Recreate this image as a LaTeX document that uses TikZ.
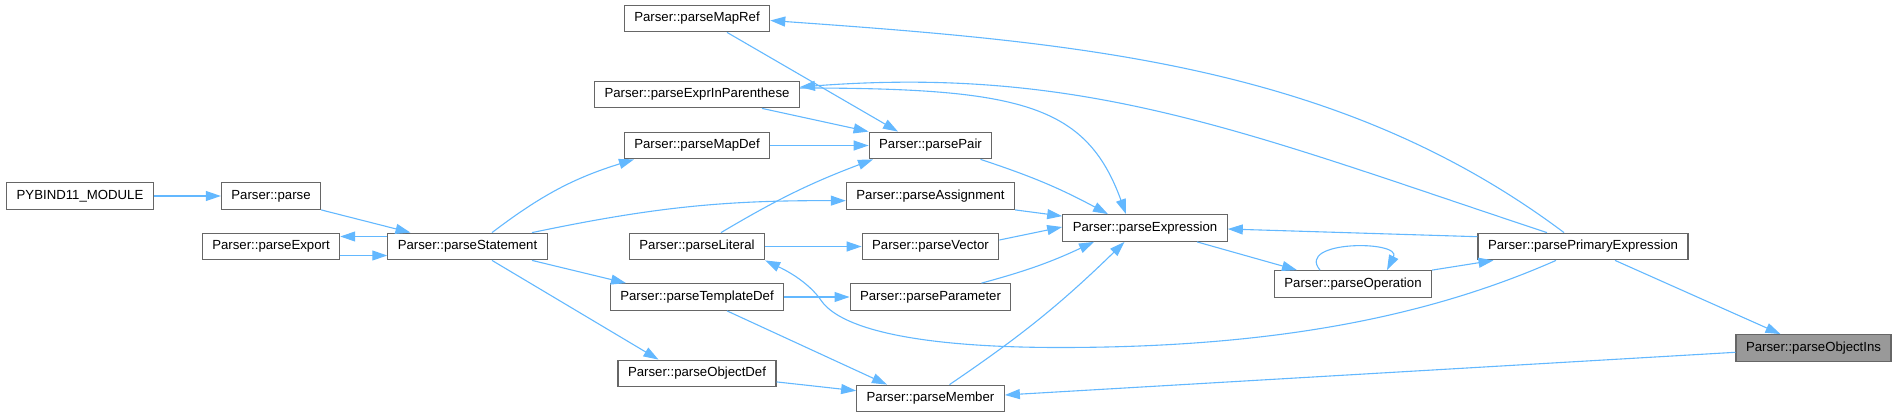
\documentclass[tikz,border=0pt]{standalone}
\usepackage{fontspec}
\setmainfont{Liberation Sans}
\usepackage{xcolor}
\usetikzlibrary{arrows.meta}
\definecolor{edgeblue}{HTML}{63B8FF}
\definecolor{boxgray}{HTML}{666666}
\definecolor{selgray}{HTML}{999999}

\begin{document}
\begin{tikzpicture}[
  x=1pt, y=-1pt,
  font=\fontsize{13.2}{15}\selectfont,
  fn/.style={draw=boxgray, line width=1.1pt, fill=white, minimum height=26.7pt, inner xsep=10pt, inner ysep=0pt},
  cur/.style={fn, fill=selgray},
  call/.style={->, draw=edgeblue, line width=1.1pt},
  >={Triangle[length=15pt,width=10pt]}]

  \useasboundingbox (0,0) rectangle (1897,417);

  \node[fn] (pybind) at (80,196) {PYBIND11\_MODULE};
  \node[fn] (parse) at (271,196) {Parser::parse};
  \node[fn] (export) at (271,246.5) {Parser::parseExport};
  \node[fn] (stmt) at (467.5,246.5) {Parser::parseStatement};

  \node[fn] (mapref) at (697,18.5) {Parser::parseMapRef};
  \node[fn] (paren) at (697,94.5) {Parser::parseExprInParenthese};
  \node[fn] (mapdef) at (697,145.5) {Parser::parseMapDef};
  \node[fn] (literal) at (697,246.5) {Parser::parseLiteral};
  \node[fn] (tmpldef) at (697,297) {Parser::parseTemplateDef};
  \node[fn] (objdef) at (697,373.5) {Parser::parseObjectDef};

  \node[fn] (pair) at (930.5,145.5) {Parser::parsePair};
  \node[fn] (assign) at (930.5,196) {Parser::parseAssignment};
  \node[fn] (vector) at (930.5,246.5) {Parser::parseVector};
  \node[fn] (param) at (930.5,297) {Parser::parseParameter};
  \node[fn] (member) at (930.5,398.5) {Parser::parseMember};

  \node[fn] (expr) at (1145,228) {Parser::parseExpression};
  \node[fn] (oper) at (1353,284) {Parser::parseOperation};
  \node[fn] (primary) at (1583,246.5) {Parser::parsePrimaryExpression};
  \node[cur] (objins) at (1813.5,348) {Parser::parseObjectIns};

  % entry side
  \draw[call] (pybind) -- (parse);
  \draw[call] (parse.south east) -- ([xshift=-57pt]stmt.north);
  \draw[call] ([yshift=10pt]stmt.west) -- ([yshift=10pt]export.east);
  \draw[call] ([yshift=-9pt]export.east) -- ([yshift=-9pt]stmt.west);
  \draw[call] ([xshift=24.5pt]stmt.north) to[bend left=10] ([xshift=-63pt]mapdef.south);
  \draw[call] ([xshift=64.5pt]stmt.north) to[bend left=6] ([yshift=-4.7pt]assign.west);
  \draw[call] ([xshift=64.5pt]stmt.south) -- ([xshift=-71pt]tmpldef.north);
  \draw[call] ([xshift=24.5pt]stmt.south) -- ([xshift=-38.5pt]objdef.north);

  % second column
  \draw[call] ([xshift=30pt]mapref.south) -- ([xshift=-32.5pt]pair.north);
  \draw[call] ([xshift=65pt]paren.south) -- (pair.north west);
  \draw[call] (mapdef) -- (pair);
  \draw[call] ([xshift=24pt]literal.north) to[bend left=5] ([xshift=-57.5pt]pair.south);
  \draw[call] (literal) -- (vector);
  \draw[call] (tmpldef) -- (param);
  \draw[call] ([xshift=30pt]tmpldef.south) -- ([xshift=-43.5pt]member.north);
  \draw[call] ([yshift=-8.4pt]objdef.east) -- ([yshift=7.8pt]member.west);

  % into parseExpression
  \draw[call] ([xshift=50pt]pair.south) to[bend left=5] ([xshift=-37pt]expr.north);
  \draw[call] (assign.south east) -- ([yshift=-2pt]expr.north west);
  \draw[call] ([yshift=6.5pt]vector.east) -- ([yshift=1pt]expr.west);
  \draw[call] ([xshift=51pt]param.north) to[bend right=5] ([xshift=-51pt]expr.south);
  \draw[call] ([xshift=19pt]member.north) to[bend right=5] ([xshift=-20.5pt]expr.south);
  \draw[call] ([yshift=6.5pt]paren.east) .. controls +(220,0) and +(-40,-110) .. ([xshift=-19pt]expr.north);

  % operation loop
  \draw[call] ([xshift=52pt]expr.south) -- ([xshift=-56pt]oper.north);
  \draw[call] ([xshift=-33pt]oper.north) .. controls +(-25,-30) and +(15,-30) .. ([xshift=34pt]oper.north);
  \draw[call] (oper.north east) -- ([xshift=-89.5pt]primary.south);

  % from parsePrimaryExpression
  \draw[call] ([yshift=9.8pt]primary.west) -- ([yshift=-1pt]expr.east);
  \draw[call] ([xshift=-19pt]primary.north) .. controls +(-224,-168) and +(310,22) .. ([yshift=-2pt]mapref.east);
  \draw[call] ([xshift=-36pt]primary.north) .. controls +(-296,-98) and +(288,-22) .. ([yshift=7.5pt]paren.east);
  \draw[call] ([xshift=-27pt]primary.south) .. controls +(-137,60.5) and +(200,0) .. (1060,347.5)
    .. controls +(-140,0) and +(21,28) .. (822,301.7)
    .. controls +(-13.75,-20.75) and +(18,8.6) .. (literal.south east);
  \draw[call] ([xshift=32pt]primary.south) -- ([xshift=-33pt]objins.north);
  \draw[call] ([yshift=-4.3pt]objins.west) -- ([yshift=3.5pt]member.east);
\end{tikzpicture}
\end{document}
